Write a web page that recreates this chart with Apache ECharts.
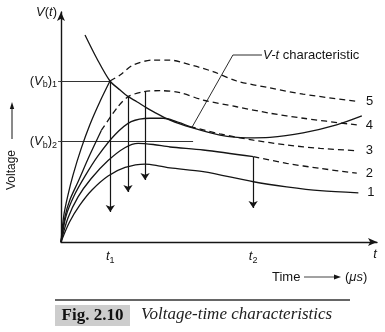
<!DOCTYPE html>
<html><head><meta charset="utf-8">
<script src="https://cdn.jsdelivr.net/npm/echarts@6/dist/echarts.min.js"></script>
<style>html,body{margin:0;padding:0;background:#fff}#c{width:385px;height:332px}</style>
</head><body><div id="c"></div>
<script>
// ---- data (time: 0..100 arbitrary, voltage: 0..100 arbitrary) ----
const curve5Solid  = [[0,0],[0.9,11.7],[2.2,20.4],[3.8,29.1],[6.4,40.7],[9.1,50.9],[12.3,61.0],[15.5,70.0]];
const curve5Dashed = [[15.5,70.0],[18.7,72.6],[22.9,77.0],[29.2,79.1],[34.5,79.1],[37.7,78.3],[48.1,74.1],[55.6,70.0],[66.1,67.0],[76.6,64.3],[93.7,61.1]];
const curve4Solid  = [[0,0],[1.3,11.3],[2.8,18.3],[5.4,26.2],[9.1,37.8],[12.8,48.6]];
const curve4Dashed = [[12.8,48.6],[18.0,58.8],[21.3,63.2],[26.0,65.3],[31.3,65.8],[37.7,64.9],[45.0,61.7],[55.6,58.8],[66.1,56.0],[76.7,53.8],[93.6,50.9]];
const curve3Solid  = [[0,0],[1.6,11.3],[4.1,20.0],[7.5,28.4],[11.7,37.4],[17.0,46.5],[22.2,52.3],[28.2,53.8],[32.4,53.8],[36.1,52.6],[40.8,50.2]];
const curve3Dashed = [[40.8,50.2],[50.3,47.0],[60.9,44.3],[71.4,42.2],[82.0,40.7],[93.6,39.7]];
const curve2Solid  = [[0,0],[2.2,10.4],[5.4,19.6],[9.5,27.5],[14.9,35.4],[20.2,41.0],[24.4,42.9],[29.2,42.4],[34.5,41.3],[45.0,40.0],[60.9,37.1]];
const curve2Dashed = [[60.9,37.1],[71.4,34.2],[82.0,32.0],[93.6,29.9]];
const curve1       = [[0,0],[2.7,8.7],[6.0,16.1],[9.8,22.6],[14.9,28.7],[20.3,32.4],[26.6,33.9],[31.3,33.0],[34.5,32.2],[45.0,30.6],[60.9,26.2],[71.4,24.0],[82.0,22.3],[94.1,21.4]];
const vtCurve      = [[7.6,90.0],[11.3,79.9],[15.5,70.0],[18.7,66.1],[21.3,63.2],[24.0,61.0],[27.1,58.3],[29.2,56.7],[34.5,53.0],[41.4,49.7],[50.3,46.5],[58.8,45.3],[66.1,45.5],[76.6,47.4],[87.2,50.9],[95.2,54.8]];
const curveLabels  = ['5','4','3','2','1'];
// breakdown arrows: [time, from voltage, to voltage]
const dropArrows   = [[15.6,70.0,13.0],[21.2,63.0,21.7],[26.6,65.2,27.0],[60.8,37.0,14.8]];
// breakdown levels
const vb1 = 70.0, vb2 = 43.9;
const vbLines = [[vb1,-1.0,15.5],[vb2,-1.9,41.8]];
const xTickValues = [15.6, 60.8, 99.4];
const xTickLabels = ['{i|t}{s|1}','{i|t}{s|2}','{i|t}'];
const yTickValues = [vb2, vb1, 100];
const yTickLabels = ['{n|(}{i|V}{s|b}{n|)}{s|2}','{n|(}{i|V}{s|b}{n|)}{s|1}','{i|V}{n|(}{i|t}{n|)}'];
const leader = [[63.6,81.3],[54.4,81.3],[41.5,50.0]];

const FONT = 'Liberation Sans';
const INK = '#151515';
const rich = {
  n:{fontFamily:FONT,fontSize:13,color:INK},
  i:{fontFamily:FONT,fontSize:13,fontStyle:'italic',color:INK},
  s:{fontFamily:FONT,fontSize:9,color:INK,padding:[8,0,0,0]}
};
function lineSeries(data, dashed, label){
  const s = {type:'line', data, symbol:'none', smooth:0.3, animation:false, silent:true,
    lineStyle:{color:INK, width:1.3, type: dashed ? [6,4] : 'solid'}, z:3};
  if(label){ s.endLabel = {show:true, formatter:label, distance:9, color:INK, fontFamily:FONT, fontSize:13}; }
  return s;
}
const chart = echarts.init(document.getElementById('c'), null, {renderer:'canvas'});
chart.setOption({
  animation:false,
  backgroundColor:'#fff',
  grid:{left:61, right:8, top:12, bottom:90, containLabel:false, outerBoundsMode:'none'},
  xAxis:{type:'value', min:0, max:100,
    axisLine:{show:true, symbol:['none','arrow'], symbolSize:[6,9], lineStyle:{color:INK, width:1.4}},
    axisTick:{show:false}, splitLine:{show:false},
    axisLabel:{customValues:xTickValues, margin:6,
      formatter:(v)=>xTickLabels[xTickValues.indexOf(v)] || '', rich}},
  yAxis:{type:'value', min:0, max:100,
    axisLine:{show:true, symbol:['none','arrow'], symbolSize:[6,9], lineStyle:{color:INK, width:1.4}},
    axisTick:{show:true, customValues:[vb1,vb2], length:3, lineStyle:{color:'#555'}}, splitLine:{show:false},
    axisLabel:{customValues:yTickValues, margin:4,
      formatter:(v)=>yTickLabels[yTickValues.indexOf(v)] || '', rich}},
  series:[
    lineSeries(curve5Solid,false), lineSeries(curve5Dashed,true,curveLabels[0]),
    lineSeries(curve4Solid,false), lineSeries(curve4Dashed,true,curveLabels[1]),
    lineSeries(curve3Solid,false), lineSeries(curve3Dashed,true,curveLabels[2]),
    lineSeries(curve2Solid,false), lineSeries(curve2Dashed,true,curveLabels[3]),
    lineSeries(curve1,false,curveLabels[4]),
    lineSeries(vtCurve,false),
    {type:'lines', coordinateSystem:'cartesian2d', silent:true, animation:false, z:4,
      symbol:['none','arrow'], symbolSize:7,
      lineStyle:{color:INK, width:1.2, opacity:1},
      data: dropArrows.map(a=>({coords:[[a[0],a[1]],[a[0],a[2]]]}))},
    {type:'lines', coordinateSystem:'cartesian2d', silent:true, animation:false, z:2,
      symbol:['none','none'],
      lineStyle:{color:'#333', width:1.1, opacity:1},
      data: vbLines.map(a=>({coords:[[a[1],a[0]],[a[2],a[0]]]}))},
    {type:'lines', coordinateSystem:'cartesian2d', polyline:true, silent:true, animation:false, z:4,
      symbol:['none','arrow'], symbolSize:6,
      lineStyle:{color:INK, width:0.9, opacity:1},
      data:[{coords:leader}]}
  ],
  graphic:[
    {type:'text', x:263, y:55, style:{text:'{i|V-t} characteristic', rich:{i:{fontFamily:FONT,fontSize:13,fontStyle:'italic',fill:INK}}, font:'13px Liberation Sans', fill:INK, verticalAlign:'middle', align:'left'}},
    {type:'text', x:12, y:170, rotation:Math.PI/2, style:{text:'Voltage', font:'12px Liberation Sans', fill:INK, align:'center', verticalAlign:'middle'}},
    {type:'line', shape:{x1:12, y1:139, x2:12, y2:107}, style:{stroke:INK, lineWidth:1}},
    {type:'polygon', shape:{points:[[12,102],[9.8,109],[14.2,109]]}, style:{fill:INK}},
    {type:'text', x:272, y:277, style:{text:'Time', font:'13px Liberation Sans', fill:INK, align:'left', verticalAlign:'middle'}},
    {type:'line', shape:{x1:304, y1:277, x2:336, y2:277}, style:{stroke:'#444', lineWidth:1}},
    {type:'polygon', shape:{points:[[341,277],[334,274.6],[334,279.4]]}, style:{fill:INK}},
    {type:'text', x:345, y:277, style:{text:'({i|μs})', rich:{i:{fontFamily:FONT,fontSize:13,fontStyle:'italic',fill:INK}}, font:'13px Liberation Sans', fill:INK, align:'left', verticalAlign:'middle'}},
    {type:'line', shape:{x1:55, y1:300, x2:350, y2:300}, style:{stroke:'#333', lineWidth:1.5}},
    {type:'rect', shape:{x:55, y:305, width:75, height:21}, style:{fill:'#cdcdcd'}},
    {type:'text', x:92.5, y:315.5, style:{text:'Fig. 2.10', font:'bold 17px Liberation Serif', fill:'#111', align:'center', verticalAlign:'middle'}},
    {type:'text', x:141, y:315, style:{text:'Voltage-time characteristics', font:'italic 17px Liberation Serif', fill:'#222', align:'left', verticalAlign:'middle'}}
  ]
});
</script></body></html>
